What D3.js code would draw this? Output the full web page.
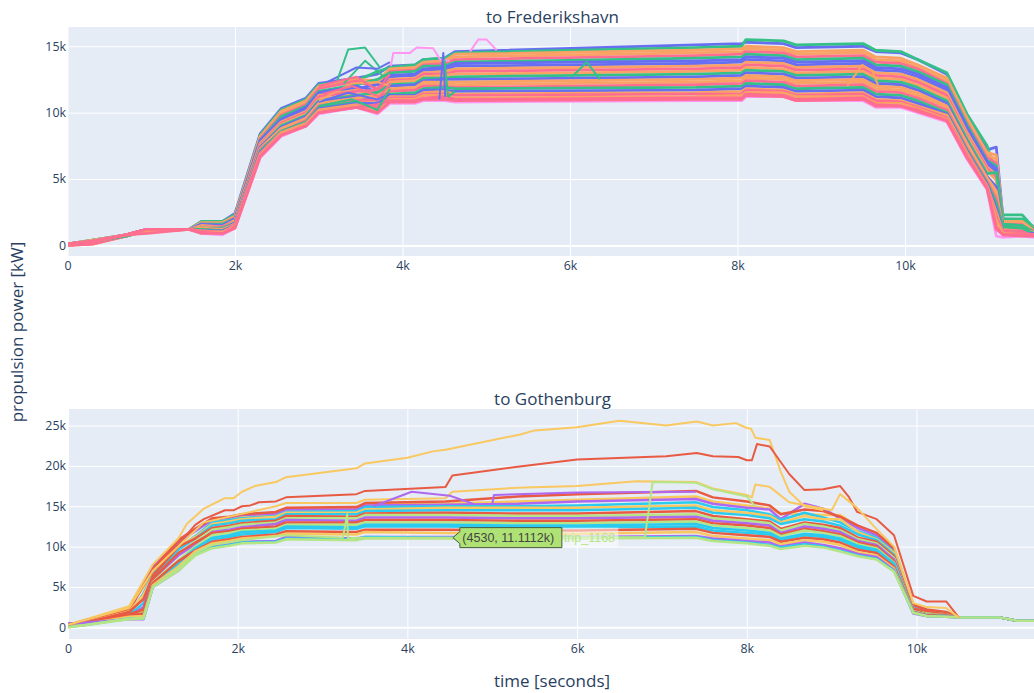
<!DOCTYPE html>
<html><head><meta charset="utf-8">
<script src="https://cdnjs.cloudflare.com/ajax/libs/d3/7.8.5/d3.min.js"></script>
<style>html,body{margin:0;padding:0;background:#fff;overflow:hidden}svg{display:block}text{font-family:"Open Sans",Verdana,Arial,sans-serif}</style>
</head><body><svg id="c" width="1034" height="693"></svg>
<script>
// ---------- tick labels ----------
const xTickValues=[0,2000,4000,6000,8000,10000];
const xTickLabels=["0","2k","4k","6k","8k","10k"];
const frYTicks=[0,5000,10000,15000];
const goYTicks=[0,5000,10000,15000,20000,25000];
const yLabelsK=["0","5k","10k","15k","20k","25k"];
// ---------- trace colours ----------
const blue="#676EF2",green="#35C088",orange="#FAA266",pink="#FF6E90",magenta="#FF97F2";
const red="#E95A42",purple="#AF68F0",cyan="#2ACBEE",lime="#B5E585",yellow="#F9C860";
// ---------- to Frederikshavn (values in thousand kW) ----------
const frTime=[0,300,700,950,1450,1600,1850,2000,2300,2550,2850,3000,3450,3700,3850,4150,4250,4500,4630,7500,8050,8100,8550,8700,9500,9650,9950,10150,10500,10740,10980,11090,11170,11400,11540];
const fr01=[.1,.4,.8,1.2,1.2,1.8,1.8,2.4,8.4,10.3,11.1,12.2,12.6,12.9,13.5,13.6,14.0,14.1,14.6,15.1,15.2,15.3,15.2,14.9,15.0,14.6,14.5,14.0,12.9,9.8,7.2,7.4,2.0,1.9,1.4];
const fr02=[.1,.4,.8,1.2,1.2,1.8,1.8,2.3,8.3,10.2,11.0,12.1,12.4,13.1,13.4,13.6,14.0,14.1,14.5,14.9,15.0,15.5,15.4,15.1,15.2,14.7,14.6,14.0,13.0,9.9,7.5,5.4,2.3,2.3,1.3];
const fr03=[.1,.4,.8,1.2,1.2,1.7,1.7,2.2,8.2,10.1,10.9,12.0,12.5,12.4,13.3,13.4,13.8,13.9,14.4,14.7,14.8,15.0,14.9,14.6,14.7,14.2,14.1,13.6,12.6,9.6,7.0,6.8,1.9,1.8,1.3];
const fr04=[.1,.3,.8,1.2,1.2,1.7,1.7,2.2,8.1,9.9,10.8,11.9,12.3,12.1,13.2,13.3,13.7,13.8,14.2,14.5,14.6,14.8,14.7,14.4,14.5,14.0,13.9,13.4,12.4,9.4,6.8,6.5,1.8,1.7,1.2];
const fr05=[.1,.3,.8,1.2,1.2,1.6,1.6,2.1,8.0,9.8,10.6,11.8,12.4,11.8,13.1,13.2,13.6,13.7,14.0,14.3,14.4,14.6,14.5,14.2,14.3,13.8,13.7,13.3,12.2,9.2,6.6,6.2,1.7,1.6,1.2];
const fr06=[.1,.3,.8,1.2,1.2,1.6,1.6,2.0,7.9,9.7,10.5,11.6,12.1,12.5,13.0,13.1,13.5,13.5,13.8,14.1,14.2,14.4,14.3,14.0,14.1,13.6,13.5,13.1,12.1,9.1,6.4,6.0,2.0,2.0,1.2];
const fr07=[.1,.3,.8,1.2,1.2,1.6,1.5,2.0,7.9,9.5,10.4,11.5,12.0,11.6,12.8,12.9,13.3,13.4,13.7,13.9,14.0,14.2,14.1,13.8,13.9,13.4,13.3,12.9,11.9,8.9,6.3,5.8,1.5,1.4,1.1];
const fr08=[.1,.3,.8,1.1,1.2,1.5,1.5,1.9,7.8,9.4,10.3,11.4,11.8,12.1,12.7,12.8,13.2,13.2,13.5,13.7,13.8,14.0,13.9,13.6,13.7,13.2,13.1,12.7,11.7,8.7,6.1,5.6,1.5,1.4,1.1];
const fr09=[.1,.3,.8,1.2,1.2,1.5,1.4,1.9,7.7,9.3,10.1,11.3,11.7,11.3,12.5,12.6,13.0,13.1,13.3,13.5,13.6,13.8,13.7,13.4,13.5,13.0,12.9,12.5,11.5,8.5,5.9,5.3,1.8,1.8,1.1];
const fr10=[0,.2,.8,1.2,1.2,1.4,1.4,1.8,7.6,9.2,10.0,11.2,11.6,11.7,12.4,12.5,12.9,12.9,13.1,13.3,13.4,13.6,13.5,13.2,13.3,12.8,12.7,12.3,11.3,8.3,5.8,5.1,1.4,1.3,1.1];
const fr11=[0,.2,.8,1.2,1.2,1.4,1.3,1.8,7.5,9.1,9.9,11.0,11.4,11.1,12.3,12.4,12.7,12.8,12.9,13.1,13.2,13.4,13.3,13.0,13.1,12.6,12.5,12.1,11.1,8.2,5.6,4.9,1.3,1.3,1.0];
const fr12=[.1,.3,.7,1.1,1.2,1.3,1.3,1.7,7.4,9.0,9.8,10.9,11.3,11.5,12.1,12.2,12.6,12.6,12.7,12.9,13.0,13.2,13.1,12.8,12.9,12.4,12.3,11.9,10.9,8.0,5.4,5.5,1.6,1.5,1.0];
const fr13=[.1,.3,.7,1.2,1.2,1.3,1.2,1.7,7.4,8.9,9.7,10.8,11.2,10.9,12.0,12.1,12.4,12.5,12.5,12.7,12.8,13.0,12.9,12.6,12.7,12.2,12.1,11.7,10.7,7.8,5.2,4.4,1.3,1.2,1.0];
const fr14=[.1,.3,.7,1.2,1.2,1.3,1.2,1.6,7.3,8.8,9.6,10.7,11.1,11.3,11.8,11.9,12.3,12.3,12.3,12.5,12.6,12.8,12.7,12.4,12.5,12.0,11.9,11.5,10.5,7.7,5.1,4.1,1.2,1.2,1.0];
const fr15=[0,.1,.7,1.2,1.2,1.2,1.2,1.6,7.2,8.7,9.5,10.6,11.0,10.7,11.7,11.8,12.1,12.2,12.1,12.3,12.4,12.6,12.5,12.2,12.3,11.8,11.7,11.3,10.4,7.5,4.9,3.8,1.2,1.1,.9];
const fr16=[0,.1,.7,1.1,1.2,1.2,1.1,1.6,7.2,8.6,9.4,10.5,10.9,11.0,11.6,11.7,12.0,12.0,11.9,12.1,12.2,12.4,12.3,12.0,12.1,11.6,11.5,11.1,10.2,7.3,4.8,3.5,1.1,1.1,.9];
const fr17=[.1,.3,.7,1.2,1.2,1.2,1.1,1.5,7.1,8.6,9.3,10.4,10.8,10.4,11.4,11.5,11.8,11.9,11.8,11.9,12.0,12.2,12.1,11.8,11.9,11.4,11.3,10.9,10.0,7.2,4.7,3.2,1.4,1.3,.9];
const fr18=[.1,.3,.8,1.2,1.2,1.1,1.1,1.5,7.0,8.5,9.2,10.3,10.7,10.7,11.3,11.3,11.7,11.7,11.6,11.7,11.8,12.0,11.9,11.6,11.7,11.2,11.1,10.7,9.9,7.1,4.6,2.8,1.0,.9,.9];
const fr19=[.1,.3,.8,1.0,1.2,1.1,1.0,1.5,6.9,8.5,9.2,10.2,10.6,10.2,11.2,11.2,11.5,11.6,11.4,11.5,11.6,11.8,11.7,11.4,11.5,11.0,10.9,10.5,9.8,7.0,4.5,2.5,1.0,.9,.8];
const fr20=[.1,.3,.8,1.2,1.2,1.1,1.0,1.4,6.9,8.4,9.1,10.1,10.5,10.4,11.1,11.1,11.4,11.4,11.3,11.4,11.4,11.7,11.6,11.3,11.4,10.9,10.8,10.4,9.6,6.9,4.5,2.2,1.0,.9,.8];
const fr21=[.1,.3,.8,1.0,1.2,1.0,1.0,1.4,6.8,8.4,9.1,10.1,10.5,10.0,11.0,11.0,11.3,11.3,11.1,11.2,11.3,11.5,11.5,11.2,11.2,10.7,10.7,10.3,9.5,6.8,4.4,1.9,.9,.8,.8];
const fr22=[.1,.3,.8,1.2,1.2,1.0,.9,1.4,6.7,8.3,9.0,10.0,10.4,10.6,10.9,10.9,11.1,11.2,11.0,11.1,11.1,11.4,11.3,11.0,11.1,10.6,10.5,10.2,9.4,6.7,4.3,1.4,.8,.8,.8];
const fr23=[.1,.3,.8,.9,1.2,.9,.9,1.3,6.7,8.3,9.0,10.0,10.4,10.0,10.8,10.8,11.0,11.0,10.9,11.0,11.0,11.3,11.2,10.9,11.0,10.5,10.5,10.1,9.4,6.6,4.3,1.2,.8,.7,.7];
const fr24=[0,.2,.8,1.2,1.2,.9,.8,1.3,6.6,8.2,9.0,9.9,10.4,9.9,10.7,10.7,10.9,10.9,10.8,10.9,10.9,11.2,11.2,10.9,10.9,10.4,10.4,10.0,9.3,6.5,4.2,.7,.6,.7,.6];
const frTrips=[fr24,fr01,fr02,fr03,fr04,fr05,fr06,fr07,fr08,fr09,fr10,fr11,fr12,fr13,fr14,fr15,fr16,fr17,fr18,fr19,fr20,fr21,fr22,fr23];
const frColors=[magenta,blue,green,orange,orange,pink,green,blue,blue,orange,pink,orange,green,blue,orange,orange,pink,green,blue,orange,pink,orange,pink,pink];
// short excursions seen in the first panel
const frBumpT1=[3214,3351,3553,3730];const frBumpV1=[12.3,14.75,14.9,13.4];
const frBumpT2=[3860,3890,4090,4170,4365,4450,4560];const frBumpV2=[13.5,14.5,14.5,14.9,14.85,14.0,13.9];
const frBumpT3=[4806,4905,5005,5125];const frBumpV3=[14.6,15.5,15.5,14.7];
const frBumpT4=[6024,6200,6358];const frBumpV4=[12.7,13.8,12.5];
const frBumpT5=[9310,9490,9610,9690];const frBumpV5=[12.0,13.6,13.1,11.9];
const frBumpT6=[4440,4487,4510];const frBumpV6=[11.0,14.5,11.2];
const frBumpT7=[4500,4545,4630];const frBumpV7=[14.0,11.2,11.6];
const frBumpT8=[3300,3553,3760];const frBumpV8=[12.2,13.9,12.8];
const frBumpT9=[3100,3450,3700,3850];const frBumpV9=[12.3,13.4,13.3,13.8];
const frBumpT10=[3000,3350,3700,3850];const frBumpV10=[10.8,11.5,11.0,11.4];
const frBumpT11=[3000,3450,3700,3850];const frBumpV11=[12.0,12.7,11.7,12.9];
const frBumpT12=[3000,3400,3700,3850];const frBumpV12=[10.5,11.0,10.2,11.8];
const frBumpT13=[3050,3400,3720,3860];const frBumpV13=[11.4,12.0,11.2,12.2];
const frBumpT14=[3000,3400,3700,3850];const frBumpV14=[10.9,12.2,12.3,12.0];
const frBumps=[[frBumpT8,frBumpV8,green],[frBumpT9,frBumpV9,blue],[frBumpT1,frBumpV1,green],[frBumpT2,frBumpV2,magenta],[frBumpT3,frBumpV3,magenta],[frBumpT4,frBumpV4,green],[frBumpT5,frBumpV5,orange],[frBumpT6,frBumpV6,blue],[frBumpT7,frBumpV7,green],[frBumpT10,frBumpV10,blue],[frBumpT12,frBumpV12,green],[frBumpT14,frBumpV14,orange],[frBumpT13,frBumpV13,pink],[frBumpT11,frBumpV11,pink]];
// ---------- to Gothenburg (values in thousand kW) ----------
const goTime=[0,150,720,890,1000,1300,1500,1700,1900,2050,2450,2570,3400,3500,4450,5300,6000,7400,7600,8000,8270,8400,8680,8900,9100,9310,9530,9735,9962,10120,10350,10500,10990,11186,11390];
const go01=[.3,.5,2.2,5.2,7.2,10.8,12.2,13.5,13.7,14.0,14.3,14.8,14.9,15.4,15.6,16.2,16.5,16.9,16.1,15.6,15.1,14.0,14.6,14.4,13.7,12.6,11.7,9.8,2.8,2.2,1.9,1.2,1.2,.8,.8];
const go02=[.2,.4,2.4,5.0,7.0,10.5,12.0,13.3,13.5,13.7,14.0,14.6,14.7,15.2,15.3,15.6,15.8,16.2,15.6,15.1,14.7,14.1,14.0,13.9,13.9,12.5,11.5,9.7,2.6,2.1,1.8,1.2,1.2,.8,.8];
const go03=[.5,.5,1.8,5.5,7.5,10.6,11.9,13.3,13.6,13.9,14.1,14.6,14.6,15.1,15.2,15.3,15.6,15.9,15.3,14.8,14.6,13.4,15.3,14.7,13.5,12.3,11.4,9.6,2.5,2.0,1.7,1.2,1.2,.8,.8];
const go04=[.3,.5,1.6,4.2,6.6,9.8,11.3,13.0,13.3,13.5,13.8,14.3,14.4,14.9,15.0,15.0,15.1,15.5,14.9,14.5,14.0,13.3,14.2,13.6,13.0,11.9,11.1,9.3,2.4,1.9,1.6,1.2,1.2,.8,.8];
const go05=[.2,.4,2.0,4.0,6.4,9.9,11.2,12.8,13.1,13.4,13.7,14.2,14.2,14.6,14.8,14.8,14.8,15.1,14.5,14.2,13.8,13.0,13.8,13.4,13.4,11.8,10.9,9.2,2.3,1.9,1.6,1.2,1.2,.8,.8];
const go06=[.2,.4,1.5,3.0,6.2,9.6,11.0,12.6,12.9,13.2,13.4,14.0,14.0,14.4,14.5,14.5,14.5,14.8,14.2,13.9,13.5,12.8,13.4,13.1,12.6,11.5,10.8,9.0,2.2,1.8,1.5,1.2,1.2,.8,.8];
const go07=[.3,.4,1.9,3.5,6.4,10.0,11.0,12.3,12.6,12.9,13.2,13.8,13.7,14.1,14.2,14.1,14.1,14.4,13.8,13.4,13.1,12.2,13.0,12.7,12.3,11.1,10.6,8.8,2.3,2.0,1.6,1.2,1.2,.8,.8];
const go08=[0,.3,1.4,2.0,5.8,9.0,10.6,12.1,12.4,12.7,13.0,13.5,13.5,13.9,13.9,13.8,13.8,14.0,13.5,13.2,12.9,12.0,12.8,12.5,12.0,10.9,10.4,8.6,2.1,1.7,1.5,1.2,1.2,.8,.8];
const go09=[.5,.5,1.4,2.5,6.0,8.9,10.3,11.8,12.1,12.4,12.8,13.3,13.2,13.6,13.6,13.5,13.5,13.7,13.2,12.9,12.6,11.7,12.5,12.2,11.8,10.7,10.2,8.4,2.1,1.6,1.4,1.2,1.2,.8,.8];
const go10=[.2,.4,1.6,2.2,6.0,9.2,10.5,11.7,11.9,12.2,12.5,13.0,13.0,13.3,13.3,13.2,13.2,13.4,12.9,12.6,12.3,11.5,12.2,11.9,11.5,10.5,10.0,8.2,2.2,1.6,1.5,1.2,1.2,.8,.8];
const go11=[0,.3,1.2,1.4,5.6,8.3,10.0,11.4,11.7,12.0,12.2,12.7,12.7,13.0,13.0,12.9,12.9,13.1,12.6,12.3,12.0,11.3,12.0,11.7,11.3,10.3,9.8,8.0,2.0,1.6,1.4,1.2,1.2,.8,.8];
const go12=[.1,.3,1.3,1.6,5.4,8.0,9.8,11.1,11.4,11.8,12.0,12.5,12.4,12.7,12.7,12.6,12.6,12.8,12.3,12.0,11.7,11.0,11.6,11.4,11.0,10.1,9.6,7.9,1.9,1.5,1.4,1.2,1.2,.8,.8];
const go13=[.1,.3,1.2,1.3,5.3,7.8,9.6,10.9,11.2,11.5,11.8,12.3,12.2,12.5,12.5,12.4,12.4,12.5,12.0,11.7,11.5,10.8,11.4,11.2,10.8,9.9,9.4,7.7,1.9,1.5,1.4,1.2,1.2,.8,.8];
const go14=[.3,.4,1.5,1.7,5.5,8.2,9.5,10.6,10.9,11.2,11.5,11.9,11.8,12.1,12.1,12.0,12.0,12.2,11.7,11.4,11.2,10.6,11.1,10.9,10.5,9.6,9.2,7.5,1.9,1.5,1.4,1.2,1.2,.8,.8];
const go15=[.2,.3,1.3,1.4,5.2,7.5,9.4,10.4,10.7,11.0,11.3,11.6,11.5,11.8,11.7,11.6,11.6,11.8,11.3,11.0,10.8,10.3,10.8,10.6,10.2,9.3,8.9,7.3,1.8,1.4,1.3,1.2,1.2,.8,.8];
const go16=[.5,.5,1.0,1.0,5.0,7.0,9.1,10.0,10.3,10.6,10.7,11.2,11.0,11.2,11.2,11.2,11.2,11.3,11.0,10.7,10.5,10.0,10.5,10.2,9.8,9.1,8.7,7.1,1.7,1.4,1.3,1.2,1.2,.8,.8];
const go17=[.1,.2,1.1,1.1,5.0,7.1,9.0,9.9,10.2,10.5,10.6,11.0,10.9,11.2,11.1,11.1,11.1,11.2,10.8,10.5,10.2,9.9,10.3,10.0,9.5,8.9,8.5,7.0,1.8,1.4,1.3,1.2,1.2,.8,.8];
const go18=[0,.2,1.0,1.1,5.0,7.0,8.9,9.8,10.1,10.4,10.5,10.9,10.8,11.0,11.0,11.0,11.0,11.1,10.7,10.4,10.1,9.7,10.1,9.9,9.4,8.8,8.4,6.9,1.8,1.4,1.3,1.2,1.2,.8,.8];
const goTrips=[go02,go03,go01,go04,go05,go06,go07,go08,go09,go10,go11,go12,go13,go14,go15,go16,go17,go18];
const goColors=[yellow,purple,red,cyan,yellow,cyan,red,lime,purple,red,lime,cyan,cyan,red,yellow,purple,cyan,lime];
// separately visible trips of the second panel
const goHighT=[0,720,1000,1300,1400,1600,1850,1950,2050,2200,2450,2570,3400,3500,4000,4300,4450,5330,5500,6000,6500,7050,7410,7600,7870,8000,8050,8100,8270,8400,8500,8680,8900];
const goHighV=[.3,2.6,7.8,11,12.8,14.7,16,16,16.8,17.5,18,18.6,19.7,20.3,21,21.8,22,23.9,24.4,24.8,25.6,25,25.5,25,25.3,24.7,24.6,23.5,23.2,19.3,16.8,15,14.5];
const goRedT=[0,720,1000,1300,1500,1600,1850,1950,2050,2150,2250,2450,2570,3400,3500,4450,4530,5300,6000,7050,7410,7600,7900,8000,8060,8120,8270,8500,8680,8900,9100,9200,9300,9530,9735,9962,10120,10350,10500];
const goRedV=[.3,2.3,7,10.3,12.7,13.4,14.5,14.5,15,15.1,15.5,15.6,16.1,16.5,16.9,17.4,18.8,19.9,20.8,21.2,21.6,21.2,21.1,20.7,20.7,22.7,22.4,19,17,17.1,17.5,16.2,14.3,13.4,11.4,3.9,3.2,3.2,1.2];
const goMidT=[0,720,1000,1300,1600,2450,2570,3400,3500,4450,4530,5300,6000,6700,7400,7600,8000,8060,8100,8270,8500,9000,9100,9300,9500,9735,9962,10120,10350,10500];
const goMidV=[.3,2.4,7,10,13,15,15.4,15.4,15.8,16,16.8,17.3,17.5,18.1,18,17.2,16.4,16.1,17.7,17.4,15.5,14.5,16.5,14.8,12.5,10,3,2.5,2.4,1.2];
const goHumpT=[3600,4050,4500,4780];
const goHumpV=[15,16.8,16.3,15.3];
const goJumpT=[5000,5020,6000,7400];
const goJumpV=[15.3,16.4,16.7,16.8];
const trip1168T=[0,720,890,1000,1300,1500,1700,2050,2570,3240,3290,3300,3400,4530,6800,6890,7400,7600,8000,8100];
const trip1168V=[0,1.1,1.2,5,7.3,9.2,10.2,10.8,11.4,11.1,14,11,11.1,11.1112,11.2,18,17.9,17.1,16.2,15];
const goExtras=[[goHighT,goHighV,yellow],[goRedT,goRedV,red],[goMidT,goMidV,yellow],[goHumpT,goHumpV,purple],[goJumpT,goJumpV,purple],[trip1168T,trip1168V,lime]];
// hover label
const hoverX=4530,hoverY=11.1112,hoverText="(4530, 11.1112k)",hoverName="trip_1168";

const svg=d3.select("#c");
const ink="#2a3f5f";
function panel(o){
  const x=d3.scaleLinear().domain(o.xDom).range([o.x0,1034]);
  const y=d3.scaleLinear().domain(o.yDom).range([o.bottom,o.top]);
  const g=svg.append("g");
  g.append("rect").attr("x",68).attr("y",o.top).attr("width",966).attr("height",o.bottom-o.top).attr("fill","#E5ECF6");
  const xa=g.append("g").attr("transform",`translate(0,${o.bottom})`).call(
    d3.axisBottom(x).tickValues(xTickValues).tickFormat((d,i)=>xTickLabels[i]).tickSize(o.top-o.bottom).tickPadding(o.bottom-o.top+1));
  const ya=g.append("g").attr("transform","translate(68,0)").call(
    d3.axisLeft(y).tickValues(o.yTicks).tickFormat(d=>yLabelsK[o.yTicks.indexOf(d)]).tickSize(-966).tickPadding(2));
  [xa,ya].forEach(a=>{a.select(".domain").remove();
    a.selectAll("line").attr("stroke","#fff").attr("stroke-width",1);
    a.selectAll("text").attr("fill",ink).style("font-size","12.4px").style("font-family",'"Open Sans",Verdana,Arial,sans-serif');});
  ya.selectAll(".tick").filter(d=>d===0).select("line").attr("stroke-width",2);
  xa.selectAll(".tick text").attr("dy","0.35em").attr("y",9.5);
  const id="clip"+o.id;
  svg.append("clipPath").attr("id",id).append("rect").attr("x",68).attr("y",o.top).attr("width",966).attr("height",o.bottom-o.top);
  const plot=g.append("g").attr("clip-path",`url(#${id})`).attr("fill","none").attr("stroke-linejoin","round");
  const line=d3.line().x(d=>x(d[0])).y(d=>y(d[1]*1000));
  plot.selectAll("path.trip").data(o.trips).join("path").attr("class","trip").attr("stroke-width",o.sw)
    .attr("stroke",(d,i)=>o.colors[i]).attr("d",d=>line(d.map((v,i)=>[o.time[i],v])));
  plot.selectAll("path.extra").data(o.extras).join("path").attr("class","extra").attr("stroke-width",2)
    .attr("stroke",d=>d[2]).attr("d",d=>line(d[0].map((t,i)=>[t,d[1][i]])));
  svg.append("text").attr("x",552.5).attr("y",o.top-4.5).attr("text-anchor","middle").attr("fill",ink).style("font-size","17px").text(o.title);
  return {x,y};
}
panel({id:"a",title:"to Frederikshavn",x0:67.5,xDom:[0,(1034-67.5)/0.08375],yDom:[-800,16450],top:27,bottom:256,yTicks:frYTicks,time:frTime,trips:frTrips,colors:frColors,extras:frBumps,sw:2.8});
const b=panel({id:"b",title:"to Gothenburg",x0:68,xDom:[0,(1034-68)/0.08485],yDom:[-1450,27050],top:409,bottom:639,yTicks:goYTicks,time:goTime,trips:goTrips,colors:goColors,extras:goExtras,sw:2.5});
// hover
const hx=b.x(hoverX),hy=b.y(hoverY*1000);
const hv=svg.append("g");
hv.append("rect").attr("x",hx+109).attr("y",hy-10).attr("width",57).attr("height",20).attr("fill","#fff").attr("fill-opacity",.5);
hv.append("path").attr("d",`M${hx+.5},${hy} l7,-6 v-4 h102 v20 h-102 v-4 z`).attr("fill","#AEE274").attr("stroke","#4a5a3a").attr("stroke-width",1);
hv.append("text").attr("x",hx+10).attr("y",hy+4.5).attr("fill","#444").style("font-family","Arial,'Liberation Sans',sans-serif").style("font-size","12.5px").text(hoverText);
hv.append("text").attr("x",hx+111.5).attr("y",hy+4.5).attr("fill",lime).style("font-family","Arial,'Liberation Sans',sans-serif").style("font-size","12.5px").text(hoverName);
// axis titles
svg.append("text").attr("transform","translate(23,332) rotate(-90)").attr("text-anchor","middle").attr("fill",ink).style("font-size","17px").text("propulsion power [kW]");
svg.append("text").attr("x",552).attr("y",687).attr("text-anchor","middle").attr("fill",ink).style("font-size","17px").text("time [seconds]");
</script></body></html>
